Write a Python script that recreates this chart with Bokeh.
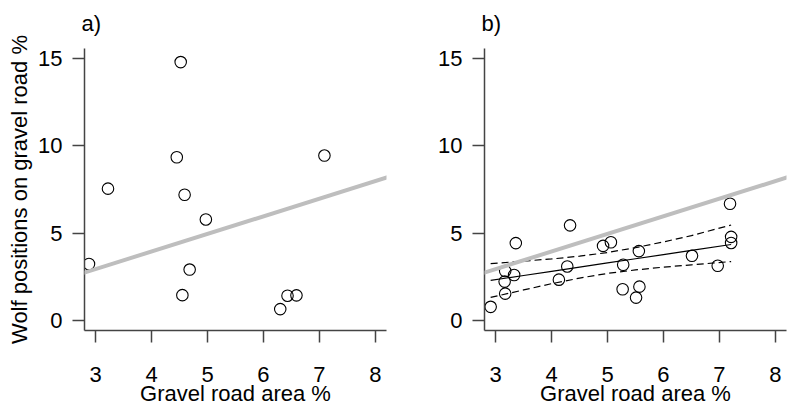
from bokeh.plotting import figure
from bokeh.layouts import row
from bokeh.models import Range1d, FixedTicker, Slope, Title
from bokeh.embed import file_html
from bokeh.resources import INLINE

# ---- data ----
# panel a
a_x = [2.88, 3.22, 4.52, 4.45, 4.59, 4.97, 4.68, 4.55, 6.30, 6.43, 6.59, 7.09]
a_y = [3.22, 7.55, 14.82, 9.35, 7.20, 5.78, 2.90, 1.43, 0.63, 1.40, 1.42, 9.45]

# panel b
b_x = [2.91, 3.17, 3.16, 3.17, 3.33, 3.36, 4.13, 4.28, 4.33, 4.92, 5.06,
       5.28, 5.27, 5.51, 5.57, 5.56, 6.51, 6.97, 7.19, 7.21, 7.21]
b_y = [0.76, 2.82, 2.21, 1.52, 2.59, 4.42, 2.32, 3.08, 5.44, 4.26, 4.47,
       3.18, 1.77, 1.29, 1.92, 3.96, 3.69, 3.12, 6.68, 4.78, 4.43]

# fitted line and confidence band in panel b
fit_x = [2.91, 3.5, 4.0, 4.5, 5.0, 5.5, 6.0, 6.5, 7.21]
fit_y = [2.28, 2.56, 2.80, 3.04, 3.28, 3.52, 3.76, 4.00, 4.34]
upper_y = [3.24, 3.39, 3.51, 3.67, 3.88, 4.16, 4.49, 4.85, 5.46]
lower_y = [1.30, 1.73, 2.09, 2.41, 2.68, 2.88, 3.04, 3.17, 3.36]

# grey reference line (both panels)
ref_gradient = 1.01
ref_intercept = -0.10

x_ticks = [3, 4, 5, 6, 7, 8]
y_ticks = [0, 5, 10, 15]
x_title = "Gravel road area %"
y_title = "Wolf positions on gravel road %"
panel_labels = ["a)", "b)"]

FONT = "Liberation Sans"
AX_COL = "#444444"
X0, X1 = 2.80, 8.20
Y0, Y1 = -0.60, 15.60


def make(label, width, left, right, ylab):
    p = figure(width=width, height=410, output_backend="svg",
               toolbar_location=None,
               x_range=Range1d(X0, X1), y_range=Range1d(Y0, Y1),
               min_border_left=left, min_border_right=right,
               min_border_top=47, min_border_bottom=80)
    p.title = Title(text=label, align="left", vertical_align="top",
                    text_font=FONT, text_font_size="22px",
                    text_font_style="normal", text_color="black", standoff=21, offset=-3)
    p.xgrid.visible = False
    p.ygrid.visible = False
    p.outline_line_color = None
    for ax in (p.xaxis[0], p.yaxis[0]):
        ax.axis_line_color = AX_COL
        ax.axis_line_width = 1.5
        ax.major_tick_line_color = AX_COL
        ax.major_tick_line_width = 1.5
        ax.major_tick_in = 0
        ax.major_tick_out = 12
        ax.minor_tick_line_color = None
        ax.major_label_text_font = FONT
        ax.major_label_text_font_size = "22px"
        ax.major_label_text_color = "black"
        ax.axis_label_text_font = FONT
        ax.axis_label_text_font_size = "22px"
        ax.axis_label_text_font_style = "normal"
        ax.axis_label_text_color = "black"
    p.xaxis[0].ticker = FixedTicker(ticks=x_ticks)
    p.yaxis[0].ticker = FixedTicker(ticks=y_ticks)
    p.yaxis[0].major_label_orientation = "horizontal"
    p.xaxis[0].major_label_standoff = 24
    p.yaxis[0].major_label_standoff = 10
    p.xaxis[0].axis_label = x_title
    p.xaxis[0].axis_label_standoff = -4
    if ylab:
        p.yaxis[0].axis_label = y_title
        p.yaxis[0].axis_label_standoff = 3
    p.add_layout(Slope(gradient=ref_gradient, y_intercept=ref_intercept,
                       line_color="#BEBEBE", line_width=4))
    return p


pa = make(panel_labels[0], 398, 84, 12, True)
pa.scatter(a_x, a_y, size=11.5, marker="circle", fill_color=None,
           line_color="black", line_width=1.1)

pb = make(panel_labels[1], 390, 86, 2, False)
pb.line(fit_x, fit_y, line_color="black", line_width=1.2)
pb.line(fit_x, upper_y, line_color="black", line_width=1.2, line_dash="7 4")
pb.line(fit_x, lower_y, line_color="black", line_width=1.2, line_dash="7 4")
pb.scatter(b_x, b_y, size=11.5, marker="circle", fill_color=None,
           line_color="black", line_width=1.1)

layout = row(pa, pb)
open("out.html", "w").write(file_html(layout, INLINE))
